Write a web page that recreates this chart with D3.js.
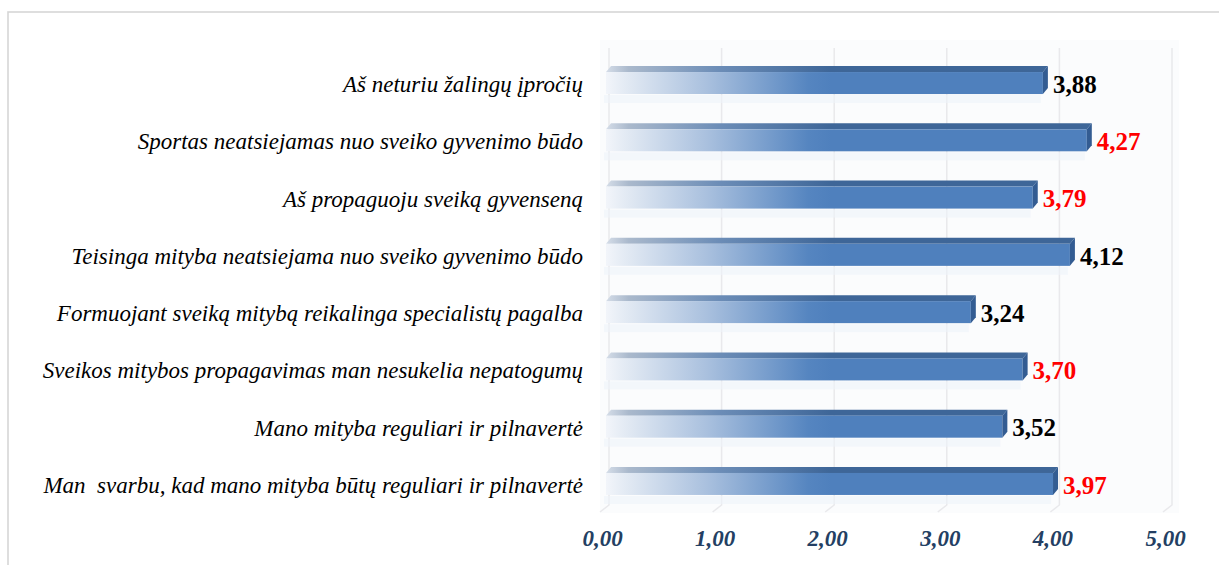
<!DOCTYPE html>
<html>
<head>
<meta charset="utf-8">
<script src="https://cdn.jsdelivr.net/npm/d3@7"></script>
<style>
  html, body { margin: 0; padding: 0; background: #ffffff; }
  svg { display: block; }
</style>
</head>
<body>
<svg id="chart" width="1219" height="565"></svg>
<script>
// Statements (top to bottom) and their mean scores
const categories = [
  "Aš neturiu žalingų įpročių",
  "Sportas neatsiejamas nuo sveiko gyvenimo būdo",
  "Aš propaguoju sveiką gyvenseną",
  "Teisinga mityba neatsiejama nuo sveiko gyvenimo būdo",
  "Formuojant sveiką mitybą reikalinga specialistų pagalba",
  "Sveikos mitybos propagavimas man nesukelia nepatogumų",
  "Mano mityba reguliari ir pilnavertė",
  "Man  svarbu, kad mano mityba būtų reguliari ir pilnavertė"
];
const values = [3.88, 4.27, 3.79, 4.12, 3.24, 3.70, 3.52, 3.97];
const highlighted = [false, true, true, false, false, true, false, true];
const tickValues = [0, 1, 2, 3, 4, 5];

const lt = d3.formatLocale({ decimal: ",", thousands: " ", grouping: [3], currency: ["", ""] });
const fmt = lt.format(".2f");
const SERIF = "Liberation Serif";

const svg = d3.select("#chart");

// outer frame
svg.append("rect")
  .attr("x", 8).attr("y", 12)
  .attr("width", 1300).attr("height", 700)
  .attr("fill", "none")
  .attr("stroke", "#d6d6d6")
  .attr("stroke-width", 1.6);

const x = d3.scaleLinear().domain([0, 5]).range([606, 1169]);
const y = d3.scalePoint().domain(categories).range([54.4, 512.6]).padding(0.5);

const depthX = 5, depthY = -6;   // 3-D offset of the bar tops
const faceH = 22;                // height of the bar front face
const wallTop = 42, wallBottom = 505;

const defs = svg.append("defs");

function grad(id, stops) {
  const g = defs.append("linearGradient")
    .attr("id", id)
    .attr("gradientUnits", "userSpaceOnUse")
    .attr("x1", x(0)).attr("x2", x(2)).attr("y1", 0).attr("y2", 0);
  stops.forEach(s => g.append("stop").attr("offset", s[0]).attr("stop-color", s[1]));
}
grad("frontGrad", [[0, "#f2f5fa"], [0.08, "#e4ebf4"], [0.45, "#a9c0de"], [0.9, "#5585c0"], [1, "#4f80bd"]]);
grad("topGrad", [[0, "#d5dde8"], [0.1, "#aab9cc"], [0.5, "#6c8db7"], [1, "#3e6698"]]);

// back wall
svg.append("rect")
  .attr("x", x(0) - 6).attr("y", wallTop - 2)
  .attr("width", x(5) - x(0) + 16).attr("height", wallBottom - wallTop + 10)
  .attr("fill", "#fbfcfd");

// gridlines on wall and floor
const grid = svg.append("g");
tickValues.forEach(v => {
  const xb = x(v) + 3;
  grid.append("path")
    .attr("d", `M${xb},${wallTop + 6}V${wallBottom}L${xb - 9},${wallBottom + 7}`)
    .attr("fill", "none")
    .attr("stroke", "#e9e9ec")
    .attr("stroke-width", 1.5);
});

// bars
const bars = svg.append("g").selectAll("g")
  .data(categories.map((c, i) => ({ c, v: values[i], hi: highlighted[i] })))
  .join("g");

// faint floor shadow
bars.append("rect")
  .attr("x", x(0) - 2)
  .attr("y", d => y(d.c) + faceH / 2 + 1)
  .attr("width", d => x(d.v) - x(0))
  .attr("height", 8)
  .attr("fill", "#eef3fa")
  .attr("opacity", 0.6);

// top face
bars.append("path")
  .attr("d", d => {
    const y0 = y(d.c) - faceH / 2, x0 = x(0), x1 = x(d.v);
    return `M${x0},${y0}L${x0 + depthX},${y0 + depthY}L${x1 + depthX},${y0 + depthY}L${x1},${y0}Z`;
  })
  .attr("fill", "url(#topGrad)");

// front face
bars.append("rect")
  .attr("x", x(0))
  .attr("y", d => y(d.c) - faceH / 2)
  .attr("width", d => x(d.v) - x(0))
  .attr("height", faceH)
  .attr("fill", "url(#frontGrad)");

// right end face
bars.append("path")
  .attr("d", d => {
    const y0 = y(d.c) - faceH / 2, x1 = x(d.v);
    return `M${x1},${y0}L${x1 + depthX},${y0 + depthY}L${x1 + depthX},${y0 + faceH + depthY}L${x1},${y0 + faceH}Z`;
  })
  .attr("fill", "#335c92");

// value labels
bars.append("text")
  .attr("x", d => x(d.v) + 10)
  .attr("y", d => y(d.c) + 1)
  .attr("dy", "0.35em")
  .style("font-family", SERIF)
  .style("font-weight", "bold")
  .style("font-size", "25px")
  .attr("fill", d => d.hi ? "#ff0000" : "#000000")
  .text(d => fmt(d.v));

// category labels
svg.append("g").selectAll("text")
  .data(categories)
  .join("text")
  .attr("x", 583)
  .attr("y", d => y(d) + 1)
  .attr("dy", "0.35em")
  .attr("text-anchor", "end")
  .style("white-space", "pre")
  .style("font-family", SERIF)
  .style("font-style", "italic")
  .style("font-size", "23px")
  .attr("fill", "#000000")
  .text(d => d);

// value axis
const axis = d3.axisBottom(x)
  .tickValues(tickValues)
  .tickFormat(fmt)
  .tickSize(0)
  .tickPadding(0);

const ax = svg.append("g")
  .attr("transform", "translate(0,530)")
  .call(axis);
ax.select(".domain").remove();
ax.selectAll("text")
  .attr("x", -4)
  .style("font-family", SERIF)
  .style("font-weight", "bold")
  .style("font-style", "italic")
  .style("font-size", "23px")
  .attr("fill", "#243f63");
</script>
</body>
</html>
